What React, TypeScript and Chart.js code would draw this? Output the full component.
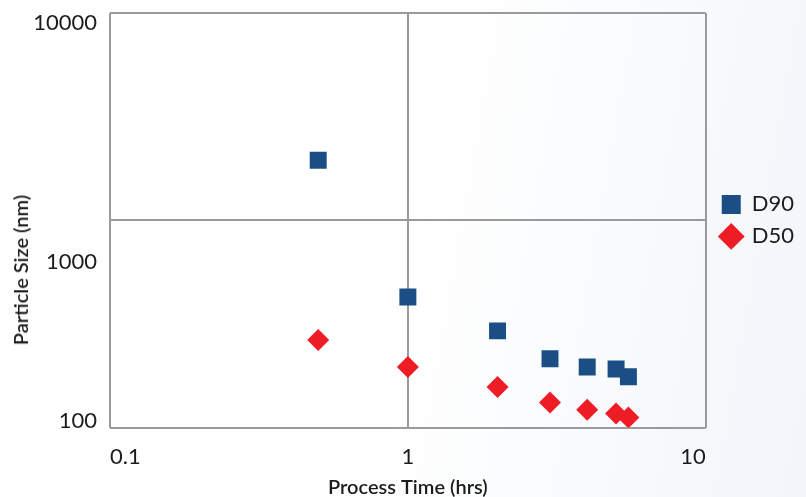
import React, { useEffect, useRef } from 'react';
import { Chart, registerables } from 'chart.js';

Chart.register(...registerables);

// ---- data ----
const processTimes = [0.5, 1, 2, 3, 4, 5, 5.5];
const d90Values = [1950, 427, 293, 215, 196, 192, 176];
const d50Values = [265, 196, 157, 132, 122, 117, 112];

const xTickValues = [0.1, 1, 10];
const xTickLabels = ['0.1', '1', '10'];
const yGridValues = [100, 1000, 10000];
const yTickLabels = ['10000', '1000', '100'];

// layout of the label column (slot index on an evenly divided label axis)
const Y_LABEL_SLOT_COUNT = 26;
const Y_LABEL_SLOTS = [0, 15, 25];

const FONT = 'Lato, "Open Sans", sans-serif';
const TEXT = '#1c1c1c';
const GRID = '#9a9a9a';
const BLUE = '#1b4e84';
const RED = '#ee1d25';

export default function App() {
  const ref = useRef<HTMLCanvasElement | null>(null);

  useEffect(() => {
    if (!ref.current) return;
    const yCategoryLabels = Array.from({ length: Y_LABEL_SLOT_COUNT }, (_, i) => {
      const k = Y_LABEL_SLOTS.indexOf(i);
      return k >= 0 ? yTickLabels[k] : '';
    });

    const chart = new Chart(ref.current, {
      type: 'scatter',
      data: {
        datasets: [
          {
            label: 'D90',
            data: processTimes.map((t, i) => ({ x: t, y: d90Values[i] })),
            pointStyle: 'rect',
            pointRadius: 12,
            pointHoverRadius: 12,
            backgroundColor: BLUE,
            borderColor: BLUE,
            borderWidth: 0,
            pointBorderWidth: 0,
          },
          {
            label: 'D50',
            data: processTimes.map((t, i) => ({ x: t, y: d50Values[i] })),
            pointStyle: 'rectRot',
            pointRadius: 11,
            pointHoverRadius: 11,
            backgroundColor: RED,
            borderColor: RED,
            borderWidth: 0,
            pointBorderWidth: 0,
          },
        ],
      },
      options: {
        responsive: false,
        animation: false,
        events: [],
        layout: { padding: { top: 12, right: 2, bottom: 0, left: 0 } },
        plugins: {
          tooltip: { enabled: false },
          legend: {
            position: 'right',
            fullSize: false,
            labels: {
              usePointStyle: true,
              boxWidth: 19,
              boxHeight: 19,
              padding: 10,
              color: TEXT,
              font: { family: FONT, size: 22 },
            },
          },
        },
        scales: {
          x: {
            type: 'logarithmic',
            min: 0.1,
            max: 10,
            afterBuildTicks: (s: any) => {
              s.ticks = xTickValues.map((v) => ({ value: v }));
            },
            ticks: {
              callback: (_v: any, i: number) => xTickLabels[i],
              align: 'inner',
              autoSkip: false,
              maxRotation: 0,
              padding: 16,
              color: TEXT,
              font: { family: FONT, size: 22 },
            },
            grid: { color: GRID, lineWidth: 2, drawTicks: false },
            border: { display: false },
            title: {
              display: true,
              text: 'Process Time (hrs)',
              color: TEXT,
              font: { family: FONT, size: 20, weight: '600' },
              padding: { top: -10, bottom: -3 },
            },
          },
          y: {
            type: 'logarithmic',
            position: 'left',
            weight: 0,
            min: 100,
            max: 10000,
            afterBuildTicks: (s: any) => {
              s.ticks = yGridValues.map((v) => ({ value: v }));
            },
            ticks: { display: false },
            grid: { color: GRID, lineWidth: 2, drawTicks: false },
            border: { display: false },
          },
          yLabels: {
            type: 'category',
            position: 'left',
            weight: 1,
            labels: yCategoryLabels,
            offset: true,
            grid: { display: false, drawTicks: true, tickLength: 13 },
            border: { display: false },
            ticks: {
              autoSkip: false,
              padding: 0,
              labelOffset: 1.5,
              color: TEXT,
              font: { family: FONT, size: 22 },
            },
            afterFit: (s: any) => {
              s.width = 110;
            },
          },
          spacer: {
            type: 'linear',
            position: 'right',
            display: true,
            ticks: { display: false },
            grid: { display: false, drawTicks: false },
            border: { display: false },
            afterFit: (s: any) => {
              s.width = 6;
            },
          },
        },
      } as any,
    });
    return () => chart.destroy();
  }, []);

  return (
    <div
      style={{
        position: 'fixed',
        left: 0,
        top: 0,
        width: 806,
        height: 497,
        background: 'linear-gradient(100deg, #ffffff 50%, #f2f6fa 100%)',
        overflow: 'hidden',
      }}
    >
      <canvas ref={ref} width={806} height={497} style={{ display: 'block' }} />
      <div
        style={{
          position: 'absolute',
          left: 20,
          top: 270,
          transform: 'translate(-50%, -50%) rotate(-90deg)',
          whiteSpace: 'nowrap',
          fontFamily: FONT,
          fontWeight: 600,
          fontSize: 20,
          color: TEXT,
        }}
      >
        Particle Size (nm)
      </div>
    </div>
  );
}
